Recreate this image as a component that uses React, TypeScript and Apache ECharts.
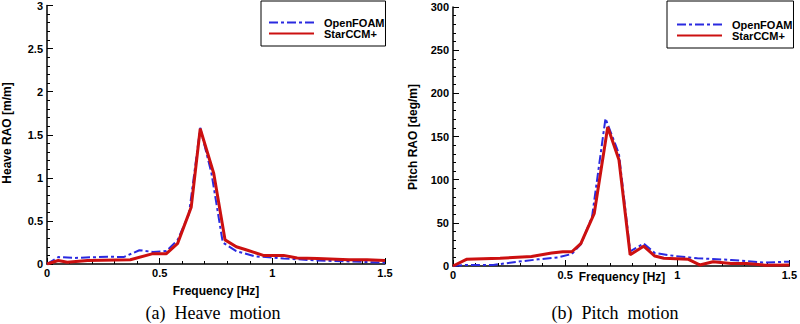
import React, { useEffect, useRef } from "react";
import * as echarts from "echarts";

const heaveStarX = [0, 0.05, 0.09, 0.18, 0.37, 0.47, 0.53, 0.58, 0.64, 0.68, 0.74, 0.79, 0.84, 0.89, 0.96, 1.05, 1.11, 1.2, 1.34, 1.42, 1.5];
const heaveStarY = [0, 0.04, 0.02, 0.04, 0.05, 0.12, 0.12, 0.24, 0.66, 1.57, 1.05, 0.28, 0.2, 0.16, 0.1, 0.1, 0.07, 0.065, 0.05, 0.05, 0.04];
const heaveFoamX = [0, 0.05, 0.12, 0.27, 0.34, 0.41, 0.47, 0.53, 0.58, 0.63, 0.68, 0.73, 0.78, 0.84, 0.92, 1.05, 1.2, 1.34, 1.5];
const heaveFoamY = [0, 0.08, 0.07, 0.085, 0.08, 0.16, 0.14, 0.15, 0.28, 0.58, 1.58, 1.05, 0.25, 0.15, 0.09, 0.065, 0.04, 0.03, 0.015];

const pitchStarX = [0, 0.06, 0.21, 0.35, 0.44, 0.49, 0.53, 0.57, 0.63, 0.69, 0.74, 0.79, 0.85, 0.9, 0.94, 1.05, 1.1, 1.16, 1.24, 1.31, 1.39, 1.5];
const pitchStarY = [0, 7.7, 9, 11, 15, 16.5, 16.5, 26, 61, 161, 123, 13, 23, 11.5, 9, 7.7, 1.2, 5, 3, 3, 1, 1.2];
const pitchFoamX = [0, 0.06, 0.18, 0.29, 0.38, 0.47, 0.53, 0.57, 0.62, 0.68, 0.74, 0.79, 0.85, 0.9, 0.99, 1.09, 1.24, 1.39, 1.5];
const pitchFoamY = [0, 1.2, 1.2, 5, 7.7, 10, 14, 25, 57, 171, 130, 17, 26, 15, 11.5, 9, 7, 4, 5];

const freqTicks = [0, 0.5, 1, 1.5];
const heaveMax = 3;
const pitchMax = 300;

const names = ["OpenFOAM", "StarCCM+"];
const xTitle = "Frequency [Hz]";
const yTitles = ["Heave RAO [m/m]", "Pitch RAO [deg/m]"];
const captions = ["(a)  Heave  motion", "(b)  Pitch  motion"];

const BLUE = "#2a2ae0";
const RED = "#cc1010";
const SANS = "Liberation Sans, Arial, sans-serif";
const SERIF = "Liberation Serif, Times New Roman, serif";

const pairs = (xs: number[], ys: number[]) => xs.map((x, i) => [x, ys[i]]);

function xAxis(gridIndex: number) {
  return {
    type: "value",
    gridIndex,
    min: freqTicks[0],
    max: freqTicks[freqTicks.length - 1],
    interval: 0.5,
    axisLine: { show: true, lineStyle: { color: "#000", width: 1.5 } },
    axisTick: { show: true, inside: true, length: 6, lineStyle: { color: "#000" } },
    minorTick: { show: true, splitNumber: 5, length: 3, lineStyle: { color: "#000" } },
    splitLine: { show: false },
    axisLabel: {
      color: "#000",
      fontFamily: SANS,
      fontWeight: "bold",
      fontSize: 11,
      margin: 3,
      formatter: (v: number) => String(v),
    },
  };
}

function yAxis(gridIndex: number, max: number) {
  return {
    type: "value",
    gridIndex,
    min: 0,
    max,
    interval: max / 6,
    axisLine: { show: true, lineStyle: { color: "#000", width: 1.5 } },
    axisTick: { show: true, inside: true, length: 6, lineStyle: { color: "#000" } },
    minorTick: { show: true, splitNumber: 5, length: 3, lineStyle: { color: "#000" } },
    splitLine: { show: false },
    axisLabel: {
      color: "#000",
      fontFamily: SANS,
      fontWeight: "bold",
      fontSize: 11,
      margin: 4,
      formatter: (v: number) => String(v),
    },
  };
}

function legend(left: number, top: number, padTop: number, padLeft: number) {
  return {
    data: names,
    orient: "vertical",
    left,
    top,
    borderColor: "#000",
    borderWidth: 1,
    backgroundColor: "#fff",
    padding: [padTop, 1, 7, padLeft],
    itemGap: 0,
    itemWidth: 45,
    itemHeight: 10,
    itemStyle: { opacity: 0, color: "transparent", borderWidth: 0 },
    textStyle: {
      color: "#000",
      fontFamily: SANS,
      fontWeight: "bold",
      fontSize: 11,
      lineHeight: 10,
      padding: [0, 0, 0, 5],
    },
  };
}

function series(xi: number, foam: number[][], star: number[][]) {
  return [
    {
      name: names[0],
      type: "line",
      xAxisIndex: xi,
      yAxisIndex: xi,
      data: foam,
      showSymbol: false,
      symbol: "none",
      lineStyle: { color: BLUE, width: 2, type: [9, 3, 3, 3] },
      itemStyle: { color: BLUE },
      z: 2,
    },
    {
      name: names[1],
      type: "line",
      xAxisIndex: xi,
      yAxisIndex: xi,
      data: star,
      showSymbol: false,
      symbol: "none",
      lineStyle: { color: RED, width: 3 },
      itemStyle: { color: RED },
      z: 3,
    },
  ];
}

export default function App() {
  const ref = useRef<HTMLDivElement>(null);
  useEffect(() => {
    if (!ref.current) return;
    const chart = echarts.init(ref.current, undefined, { renderer: "svg" });
    chart.setOption({
      animation: false,
      backgroundColor: "#fff",
      grid: [
        { left: 47, right: 415, top: 2, bottom: 60 },
        { left: 453, right: 7, top: 7, bottom: 58 },
      ],
      xAxis: [xAxis(0), xAxis(1)],
      yAxis: [yAxis(0, heaveMax), yAxis(1, pitchMax)],
      legend: [legend(261, 1, 16, 7), legend(667, 1, 18, 9)],
      series: [
        ...series(0, pairs(heaveFoamX, heaveFoamY), pairs(heaveStarX, heaveStarY)),
        ...series(1, pairs(pitchFoamX, pitchFoamY), pairs(pitchStarX, pitchStarY)),
      ],
      graphic: [
        { type: "text", x: 7, y: 133, rotation: Math.PI / 2, style: { text: yTitles[0], fontFamily: SANS, fontWeight: "bold", fontSize: 12, fill: "#000", align: "center", verticalAlign: "middle" } },
        { type: "text", x: 413, y: 137, rotation: Math.PI / 2, style: { text: yTitles[1], fontFamily: SANS, fontWeight: "bold", fontSize: 12, fill: "#000", align: "center", verticalAlign: "middle" } },
        { type: "text", x: 216, y: 291, style: { text: xTitle, fontFamily: SANS, fontWeight: "bold", fontSize: 12, fill: "#000", align: "center", verticalAlign: "middle" } },
        { type: "text", x: 622, y: 277, style: { text: xTitle, fontFamily: SANS, fontWeight: "bold", fontSize: 12, fill: "#000", align: "center", verticalAlign: "middle" } },
        { type: "text", x: 213, y: 313, style: { text: captions[0], fontFamily: SERIF, fontSize: 18, fill: "#000", align: "center", verticalAlign: "middle" } },
        { type: "text", x: 615, y: 313, style: { text: captions[1], fontFamily: SERIF, fontSize: 18, fill: "#000", align: "center", verticalAlign: "middle" } },
      ],
    });
    return () => chart.dispose();
  }, []);
  return <div ref={ref} style={{ position: "fixed", left: 0, top: 0, width: 800, height: 324 }} />;
}
